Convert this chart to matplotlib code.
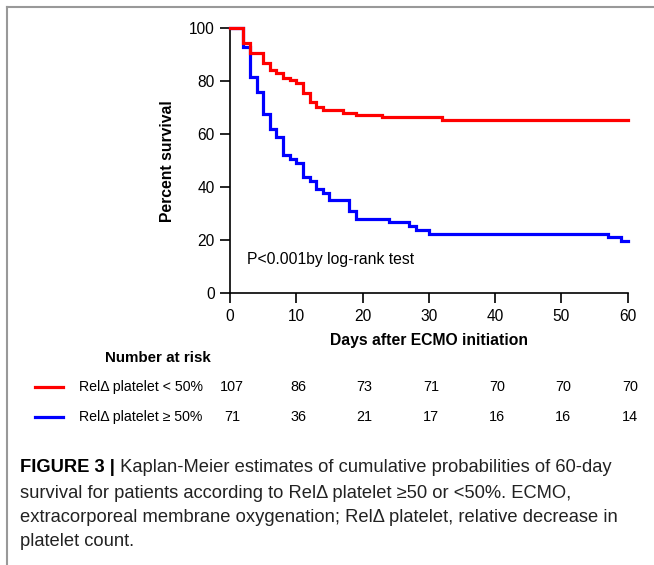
import matplotlib
matplotlib.use("Agg")
import matplotlib.pyplot as plt
from matplotlib.transforms import blended_transform_factory
from matplotlib.lines import Line2D

plt.rcParams['font.family'] = ['Liberation Sans', 'DejaVu Sans']

# ---- data ----
red_days = [0, 2, 3, 5, 6, 7, 8, 9, 10, 11, 12, 13, 14, 17, 19, 23, 32, 60]
red_surv = [100, 94.4, 90.7, 86.9, 84.1, 83.2, 81.3, 80.4, 79.2, 75.4, 72.2,
            70.2, 69.3, 68.2, 67.3, 66.4, 65.4, 65.4]
blue_days = [0, 2, 3, 4, 5, 6, 7, 8, 9, 10, 11, 12, 13, 14, 15, 18, 19, 24,
             27, 28, 30, 57, 59, 60]
blue_surv = [100, 93.0, 81.7, 76.1, 67.6, 62.0, 59.1, 52.1, 50.7, 49.3, 43.7,
             42.3, 39.4, 38.0, 35.2, 31.0, 28.2, 26.8, 25.4, 23.9, 22.5, 21.1,
             19.7, 19.7]
risk_days = [0, 10, 20, 30, 40, 50, 60]
risk_red = [107, 86, 73, 71, 70, 70, 70]
risk_blue = [71, 36, 21, 17, 16, 16, 14]
group_labels = ["RelΔ platelet < 50%", "RelΔ platelet ≥ 50%"]
x_ticks = [0, 10, 20, 30, 40, 50, 60]
y_ticks = [0, 20, 40, 60, 80, 100]
caption_bold = "FIGURE 3 |"
caption_lines = [
    " Kaplan-Meier estimates of cumulative probabilities of 60-day",
    "survival for patients according to RelΔ platelet ≥50 or <50%. ECMO,",
    "extracorporeal membrane oxygenation; RelΔ platelet, relative decrease in",
    "platelet count.",
]

W, H = 654, 565
fig = plt.figure(figsize=(W / 100, H / 100), dpi=100)
fig.patch.set_facecolor('white')

def fx(px):
    return px / W

def fy(py):
    return 1 - py / H

ax_l, ax_r, ax_t, ax_b = 230, 627.7, 28.3, 293.3
ax = fig.add_axes([fx(ax_l), fy(ax_b), fx(ax_r) - fx(ax_l), fy(ax_t) - fy(ax_b)])
ax.step(red_days, red_surv, where='post', color='#ff0000', lw=2.3, clip_on=False,
        solid_joinstyle='miter', zorder=3)
ax.step(blue_days, blue_surv, where='post', color='#0000ff', lw=2.3, clip_on=False,
        solid_joinstyle='miter', zorder=2)
ax.set_xlim(0, 60)
ax.set_ylim(0, 100)
ax.set_xticks(x_ticks)
ax.set_yticks(y_ticks)
for s in ['top', 'right']:
    ax.spines[s].set_visible(False)
for s in ['left', 'bottom']:
    ax.spines[s].set_linewidth(1.2)
ax.tick_params(direction='out', length=7, width=1.2, labelsize=11.2, pad=4)
ax.set_xlabel("Days after ECMO initiation", fontsize=11.3, fontweight='bold')
ax.set_ylabel("Percent survival", fontsize=11.3, fontweight='bold')
ax.xaxis.label.set_va('center')
ax.yaxis.label.set_va('center')
ax.xaxis.set_label_coords(0.5, (ax_b - 340) / (ax_b - ax_t))
ax.yaxis.set_label_coords((167 - ax_l) / (ax_r - ax_l), 0.5)
ax.text(2.5, 12.6, "P<0.001by log-rank test", fontsize=11.3, va='center', ha='left')

# ---- number at risk table ----
tr = blended_transform_factory(ax.transData, fig.transFigure)
fig.text(fx(158), fy(358), "Number at risk", fontsize=10.9, fontweight='bold',
         ha='center', va='center')
for row_y, col, lab, vals in [(387, '#ff0000', group_labels[0], risk_red),
                              (417, '#0000ff', group_labels[1], risk_blue)]:
    fig.add_artist(Line2D([fx(35), fx(63)], [fy(row_y), fy(row_y)], color=col, lw=2.3,
                          transform=fig.transFigure))
    fig.text(fx(79), fy(row_y), lab, fontsize=10.2, ha='left', va='center')
    for d, v in zip(risk_days, vals):
        ax.text(d + 0.3, fy(row_y), str(v), fontsize=10.4, ha='center', va='center',
                transform=tr, clip_on=False)

# ---- caption ----
cap_font = ['Liberation Sans', 'DejaVu Sans']
cap_size = 13.2
line_y = [467, 493, 518, 542]
t0 = fig.text(fx(20), fy(line_y[0]), caption_bold, fontsize=cap_size, fontweight='bold',
              family=cap_font, ha='left', va='center')
ax.annotate(caption_lines[0], xy=(1, 0.5), xycoords=t0, va='center', ha='left',
            fontsize=cap_size, family=cap_font, color='#222222', annotation_clip=False)
for yy, line in zip(line_y[1:], caption_lines[1:]):
    fig.text(fx(20), fy(yy), line, fontsize=cap_size, family=cap_font, color='#222222',
             ha='left', va='center')

# ---- gray frame ----
fig.add_artist(Line2D([fx(7), fx(7)], [fy(7), 0], color='#999999', lw=1.5,
                      transform=fig.transFigure))
fig.add_artist(Line2D([fx(7), 1], [fy(7), fy(7)], color='#999999', lw=1.5,
                      transform=fig.transFigure))

fig.savefig("out.png", dpi=100)
